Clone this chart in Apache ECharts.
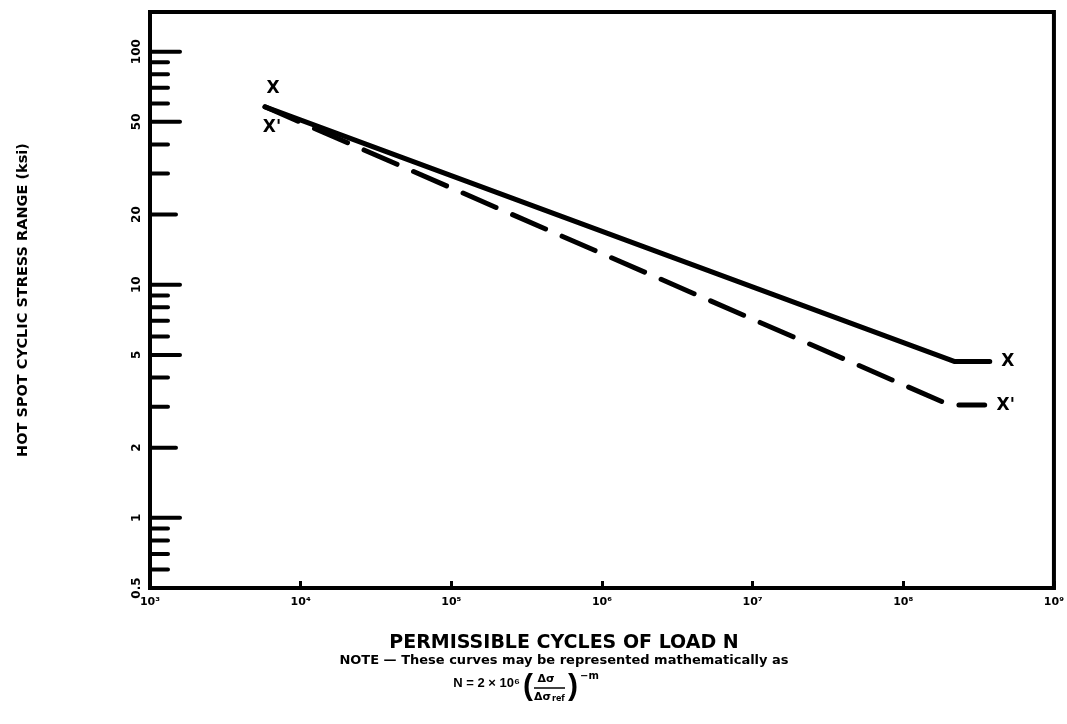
<!DOCTYPE html>
<html>
<head>
<meta charset="utf-8">
<script src="https://cdn.jsdelivr.net/npm/echarts@6/dist/echarts.min.js"></script>
<style>
  html, body { margin: 0; padding: 0; background: #fff; }
  #chart { width: 1067px; height: 724px; }
</style>
</head>
<body>
<div id="chart"></div>
<script>
// ---- data ----
const cyclesX = [5800, 2.2e8, 3.75e8];          // curve X (solid)
const stressX = [58, 4.68, 4.68];
const cyclesXp = [5800, 2.03e8, 3.47e8];        // curve X' (dashed)
const stressXp = [58, 3.05, 3.05];
const yTickValues = [100, 90, 80, 70, 60, 50, 40, 30, 20, 10, 9, 8, 7, 6, 5, 4, 3, 2, 1, 0.9, 0.8, 0.7, 0.6, 0.5];
const yLabelValues = [100, 50, 20, 10, 5, 2, 1, 0.5];
const curveNames = ['X', "X'"];
const xAxisTitle = 'PERMISSIBLE CYCLES OF LOAD N';
const yAxisTitle = 'HOT SPOT CYCLIC STRESS RANGE (ksi)';
const noteText = 'NOTE \u2014 These curves may be represented mathematically as';

const sup = {'0':'\u2070','1':'\u00B9','2':'\u00B2','3':'\u00B3','4':'\u2074','5':'\u2075','6':'\u2076','7':'\u2077','8':'\u2078','9':'\u2079'};

const chart = echarts.init(document.getElementById('chart'));

function zipPts(xs, ys) { return xs.map((x, i) => [x, ys[i]]); }

const HEAVY = 'DejaVu Sans';

// curve-name labels at the start and end of each curve
const labelPoints = [
  [cyclesX[0], stressX[0], 0],
  [cyclesXp[0], stressXp[0], 1],
  [cyclesX[2], stressX[2], 0],
  [cyclesXp[2], stressXp[2], 1]
];
const labelOffsets = [[8, -18], [7, 21], [18, 0], [21, 1]];

const option = {
  backgroundColor: '#fff',
  animation: false,
  grid: {
    left: 150, right: 11, top: 12, bottom: 136,
    show: true, borderColor: '#000', borderWidth: 4, backgroundColor: 'transparent'
  },
  xAxis: {
    type: 'log', logBase: 10, min: 1e3, max: 1e9,
    axisLine: { show: true, lineStyle: { color: '#000', width: 4 } },
    axisTick: { show: true, inside: true, length: 7, lineStyle: { color: '#000', width: 3 } },
    splitLine: { show: false },
    minorTick: { show: false },
    axisLabel: {
      color: '#000', fontFamily: HEAVY, fontWeight: 'bold', fontSize: 11, margin: 9,
      formatter: v => '10' + String(Math.round(Math.log10(v))).split('').map(c => sup[c]).join('')
    }
  },
  yAxis: {
    type: 'log', logBase: 10, min: 0.5, max: 148,
    name: yAxisTitle, nameLocation: 'middle', nameGap: 119, nameRotate: 90,
    nameTextStyle: { color: '#000', fontFamily: HEAVY, fontWeight: 'bold', fontSize: 14.5 },
    axisLine: { show: true, lineStyle: { color: '#000', width: 4 } },
    axisTick: { show: false },
    axisLabel: { show: false },
    splitLine: { show: false },
    minorTick: { show: false }
  },
  graphic: [
    { type: 'text', x: 564, y: 643, style: { text: xAxisTitle, fill: '#000', font: 'bold 19px "DejaVu Sans"', align: 'center', verticalAlign: 'middle' } },
    { type: 'text', x: 564, y: 661, style: { text: noteText, fill: '#000', font: 'bold 13px "DejaVu Sans"', align: 'center', verticalAlign: 'middle' } },
    { type: 'text', x: 520, y: 683, style: { text: 'N = 2 \u00D7 10\u2076', fill: '#000', font: 'bold 13px "Liberation Sans"', align: 'right', verticalAlign: 'middle' } },
    { type: 'text', x: 528, y: 687, style: { text: '(', fill: '#000', font: 'bold 30px "Liberation Sans"', align: 'center', verticalAlign: 'middle' } },
    { type: 'text', x: 546, y: 679, style: { text: '\u0394\u03C3', fill: '#000', font: 'bold 11px "DejaVu Sans"', align: 'center', verticalAlign: 'middle' } },
    { type: 'line', shape: { x1: 534, y1: 688, x2: 565, y2: 688 }, style: { stroke: '#000', lineWidth: 1.5 } },
    { type: 'text', x: 551, y: 697, style: { text: '\u0394\u03C3', fill: '#000', font: 'bold 11px "DejaVu Sans"', align: 'right', verticalAlign: 'middle' } },
    { type: 'text', x: 552, y: 699, style: { text: 'ref', fill: '#000', font: 'bold 8px "DejaVu Sans"', align: 'left', verticalAlign: 'middle' } },
    { type: 'text', x: 573, y: 687, style: { text: ')', fill: '#000', font: 'bold 30px "Liberation Sans"', align: 'center', verticalAlign: 'middle' } },
    { type: 'text', x: 580, y: 676, style: { text: '\u2212m', fill: '#000', font: 'bold 10px "DejaVu Sans"', align: 'left', verticalAlign: 'middle' } }
  ],
  series: [
    {
      name: curveNames[0], type: 'line', data: zipPts(cyclesX, stressX),
      symbol: 'none', lineStyle: { color: '#000', width: 5, cap: 'round', join: 'round' }, z: 5
    },
    {
      name: curveNames[1], type: 'line', data: zipPts(cyclesXp, stressXp),
      symbol: 'none', lineStyle: { color: '#000', width: 5, type: [36, 18], cap: 'round', join: 'round' }, z: 5
    },
    {
      type: 'custom', clip: false, z: 6,
      data: labelPoints,
      renderItem: function (params, api) {
        const p = api.coord([api.value(0), api.value(1)]);
        const off = labelOffsets[params.dataIndex];
        return {
          type: 'text', x: p[0] + off[0], y: p[1] + off[1],
          style: { text: curveNames[api.value(2)], fill: '#000', font: 'bold 17px "DejaVu Sans"', align: 'center', verticalAlign: 'middle' }
        };
      }
    },
    {
      type: 'custom', clip: false, z: 4,
      data: yTickValues.map(v => [1e3, v]),
      renderItem: function (params, api) {
        const v = api.value(1);
        const p = api.coord([api.value(0), v]);
        const mant = Math.round(v / Math.pow(10, Math.floor(Math.log10(v) + 1e-9)));
        const len = (mant === 1 || mant === 5) ? 30 : (mant === 2 ? 26 : 18);
        const children = [{
          type: 'line',
          shape: { x1: p[0], y1: p[1], x2: p[0] + len, y2: p[1] },
          style: { stroke: '#000', lineWidth: 4, lineCap: 'round' }
        }];
        if (yLabelValues.indexOf(v) >= 0) {
          children.push({
            type: 'text', x: p[0] - 13, y: p[1], rotation: Math.PI / 2,
            style: { text: String(v), fill: '#000', font: 'bold 12px "DejaVu Sans"', align: 'center', verticalAlign: 'middle' }
          });
        }
        return { type: 'group', children: children };
      }
    }
  ]
};
chart.setOption(option);
</script>
</body>
</html>
